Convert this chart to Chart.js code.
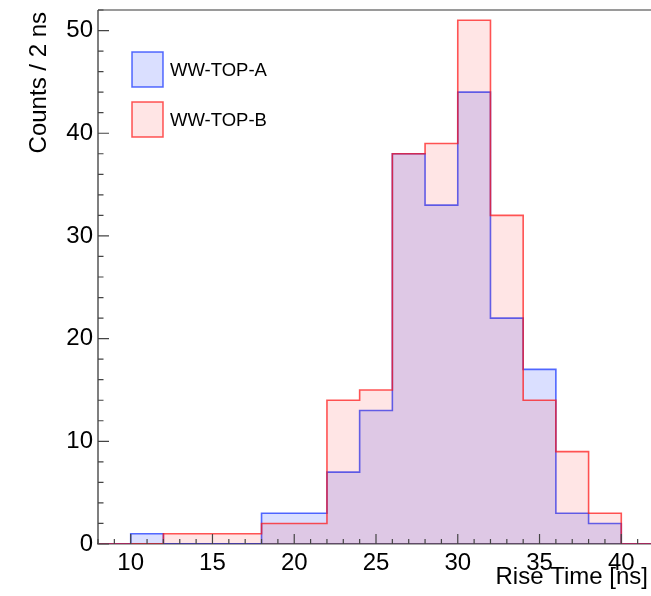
<!DOCTYPE html>
<html>
<head>
<meta charset="utf-8">
<script src="https://cdn.jsdelivr.net/npm/chart.js@4.4.0/dist/chart.umd.min.js"></script>
<style>
  html, body { margin: 0; padding: 0; background: #fff; overflow: hidden; }
  #wrap { width: 654px; height: 596px; }
</style>
</head>
<body>
<div id="wrap"><canvas id="riseChart"></canvas></div>
<script>
// bin low edges (2 ns bins), last entry closes the range
const binEdges = [8, 10, 12, 14, 16, 18, 20, 22, 24, 26, 28, 30, 32, 34, 36, 38, 40, 42];
const countsA = [0, 1, 0, 0, 0, 3, 3, 7, 13, 38, 33, 44, 22, 17, 3, 2, 0];
const countsB = [0, 0, 1, 1, 1, 2, 2, 14, 15, 38, 39, 51, 32, 14, 9, 3, 0];
const xTickLabels = [10, 15, 20, 25, 30, 35, 40];
const yTickLabels = [0, 10, 20, 30, 40, 50];
const seriesNames = ["WW-TOP-A", "WW-TOP-B"];

const FONT = "'Liberation Sans', Arial, Helvetica, sans-serif";

// step outline: one point per low edge, plus the closing edge
function histPoints(counts) {
    const pts = counts.map((c, i) => ({ x: binEdges[i], y: c }));
    pts.push({ x: binEdges[binEdges.length - 1], y: counts[counts.length - 1] });
    return pts;
}

// ROOT-like frame: ticks inside, titles at the axis ends, boxed legend
const rootFrame = {
    id: "rootFrame",
    afterDraw(chart) {
        const ctx = chart.ctx;
        const a = chart.chartArea;
        const xs = chart.scales.x, ys = chart.scales.y;
        ctx.save();

        // frame
        ctx.strokeStyle = "#9a9a9a";
        ctx.lineWidth = 2;
        ctx.beginPath();
        ctx.moveTo(a.left, a.top);
        ctx.lineTo(a.right, a.top);
        ctx.stroke();
        ctx.strokeStyle = "#555";
        ctx.lineWidth = 1.5;
        ctx.beginPath();
        ctx.moveTo(a.left, a.top);
        ctx.lineTo(a.left, a.bottom);
        ctx.stroke();

        // ticks
        ctx.strokeStyle = "#444";
        ctx.lineWidth = 1.2;
        ctx.beginPath();
        for (let v = Math.ceil(ys.min); v <= ys.max; v += 2) {
            const py = ys.getPixelForValue(v);
            const len = v % 10 === 0 ? 11 : 5.5;
            ctx.moveTo(a.left, py);
            ctx.lineTo(a.left + len, py);
        }
        for (let v = Math.ceil(xs.min); v <= xs.max; v += 1) {
            const px = xs.getPixelForValue(v);
            const len = v % 5 === 0 ? 10 : 5;
            ctx.moveTo(px, a.bottom);
            ctx.lineTo(px, a.bottom - len);
        }
        ctx.stroke();

        // axis titles
        ctx.fillStyle = "#000";
        ctx.font = "24px " + FONT;
        ctx.textAlign = "right";
        ctx.textBaseline = "alphabetic";
        ctx.fillText("Rise Time [ns]", 648, 584);
        ctx.save();
        ctx.translate(46, 12);
        ctx.rotate(-Math.PI / 2);
        ctx.fillText("Counts / 2 ns", 0, 0);
        ctx.restore();

        // legend
        ctx.font = "18.5px " + FONT;
        ctx.textAlign = "left";
        ctx.textBaseline = "middle";
        chart.data.datasets.forEach((ds, i) => {
            const top = 52 + i * 50;
            ctx.fillStyle = "#fff";
            ctx.fillRect(132, top, 31, 35);
            ctx.fillStyle = ds.backgroundColor;
            ctx.fillRect(132, top, 31, 35);
            ctx.strokeStyle = ds.borderColor;
            ctx.lineWidth = 1.5;
            ctx.strokeRect(132, top, 31, 35);
            ctx.fillStyle = "#000";
            ctx.fillText(ds.label, 170, top + 19);
        });
        ctx.restore();
    }
};

const ctx = document.getElementById("riseChart").getContext("2d");
new Chart(ctx, {
    type: "line",
    data: {
        datasets: [{
            label: seriesNames[0],
            data: histPoints(countsA),
            stepped: "before",
            borderColor: "rgba(20,50,255,0.72)",
            backgroundColor: "rgba(50,80,255,0.18)",
            borderWidth: 1.6,
            fill: "origin",
            pointRadius: 0,
            order: 1
        }, {
            label: seriesNames[1],
            data: histPoints(countsB),
            stepped: "before",
            borderColor: "rgba(255,20,20,0.72)",
            backgroundColor: "rgba(255,0,0,0.1)",
            borderWidth: 1.6,
            fill: "origin",
            pointRadius: 0,
            order: 0
        }]
    },
    options: {
        responsive: true,
        maintainAspectRatio: false,
        animation: false,
        layout: { padding: { top: 10, left: 0, right: 0, bottom: 0 } },
        plugins: { legend: { display: false }, tooltip: { enabled: false } },
        scales: {
            x: {
                type: "linear",
                min: binEdges[0],
                max: binEdges[binEdges.length - 1],
                afterBuildTicks: s => { s.ticks = xTickLabels.map(v => ({ value: v })); },
                afterFit: s => { s.height = 52; s.paddingLeft = 0; s.paddingRight = 0; },
                grid: { display: false, drawTicks: false },
                border: { display: true, color: "#555", width: 1.5 },
                ticks: { color: "#000", padding: 5, font: { family: FONT, size: 24 }, maxRotation: 0 }
            },
            y: {
                type: "linear",
                min: 0,
                max: 52,
                afterBuildTicks: s => { s.ticks = yTickLabels.map(v => ({ value: v })); },
                afterFit: s => { s.width = 98; s.paddingTop = 0; s.paddingBottom = 0; },
                grid: { display: false, drawTicks: false },
                border: { display: false },
                ticks: { color: "#000", padding: 5, font: { family: FONT, size: 24 } }
            }
        }
    },
    plugins: [rootFrame]
});
</script>
</body>
</html>
